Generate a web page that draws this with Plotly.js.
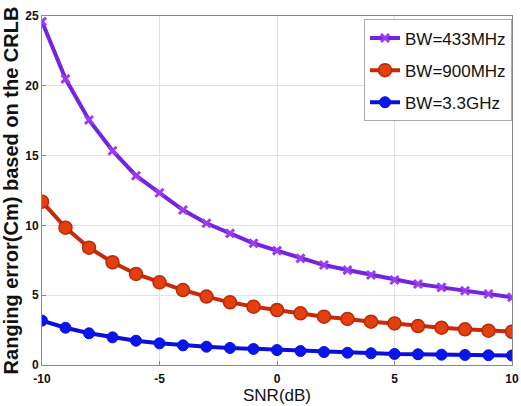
<!DOCTYPE html>
<html>
<head>
<meta charset="utf-8">
<script src="https://cdn.plot.ly/plotly-3.0.1.min.js"></script>
<style>html,body{margin:0;padding:0;background:#fff;}#chart{width:521px;height:406px;}</style>
</head>
<body>
<div id="chart"></div>
<script>
const snr = [-10,-9,-8,-7,-6,-5,-4,-3,-2,-1,0,1,2,3,4,5,6,7,8,9,10];
const bw433 = [24.6,20.5,17.55,15.35,13.56,12.34,11.1,10.15,9.43,8.72,8.19,7.64,7.16,6.8,6.45,6.09,5.8,5.56,5.32,5.09,4.85];
const bw900 = [11.7,9.84,8.4,7.36,6.52,5.92,5.37,4.9,4.49,4.18,3.94,3.7,3.46,3.3,3.1,2.98,2.79,2.67,2.56,2.46,2.39];
const bw33 = [3.18,2.67,2.27,1.98,1.74,1.55,1.41,1.31,1.22,1.15,1.07,1.0,0.93,0.88,0.84,0.79,0.77,0.74,0.72,0.7,0.68];
const names = ['BW=433MHz','BW=900MHz','BW=3.3GHz'];

const traces = [
  {x: snr, y: bw433, name: names[0], legendgroup: 'a', mode: 'lines+markers',
   line: {color: '#7424e0', width: 4},
   marker: {symbol: 'x-thin', size: 8, color: '#9b3cf2', line: {color: '#9b3cf2', width: 3}}},
  {x: snr, y: bw900, name: names[1], legendgroup: 'b', mode: 'lines+markers',
   line: {color: '#c8280c', width: 4},
   marker: {symbol: 'circle', size: 13, color: '#e4400f', line: {color: '#b82a0a', width: 1.5}}},
  {x: snr, y: bw33, name: names[2], legendgroup: 'c', mode: 'lines+markers',
   line: {color: '#0a10d8', width: 4},
   marker: {symbol: 'circle', size: 11, color: '#0a14ee', line: {color: '#0a10d8', width: 1}}}
];

const layout = {
  width: 521, height: 406,
  margin: {l: 42, r: 9, t: 16, b: 41},
  paper_bgcolor: '#fff', plot_bgcolor: '#fff',
  font: {family: 'Liberation Sans, Arial, sans-serif', color: '#111'},
  showlegend: true,
  legend: {x: 1, y: 0.99, xanchor: 'right', yanchor: 'top', bgcolor: '#fff',
           bordercolor: '#aaa', borderwidth: 1, font: {size: 17, color: '#111'},
           itemwidth: 30, traceorder: 'grouped', tracegroupgap: 7},
  xaxis: {range: [-10, 10], tickvals: [-10,-5,0,5,10], ticktext: ['-10','-5','0','5','10'],
          showgrid: true, gridcolor: '#e2e2e2', zeroline: false,
          showline: true, linecolor: '#888', mirror: true, ticks: 'inside', ticklen: 4, tickcolor: '#888',
          tickfont: {size: 12, weight: 'bold', color: '#111'}, ticklabelstandoff: 3,
          title: {text: 'SNR(dB)', font: {size: 17, color: '#111'}, standoff: 2}},
  yaxis: {range: [0, 25], tickvals: [0,5,10,15,20,25],
          showgrid: true, gridcolor: '#e2e2e2', zeroline: false,
          showline: true, linecolor: '#888', mirror: true, ticks: 'inside', ticklen: 4, tickcolor: '#888',
          tickfont: {size: 12, weight: 'bold', color: '#111'},
          title: {text: 'Ranging error(Cm) based on the CRLB', font: {size: 20, weight: 'bold', color: '#111'}, standoff: 4}}
};

Plotly.newPlot('chart', traces, layout, {displayModeBar: false, staticPlot: true});
</script>
</body>
</html>
